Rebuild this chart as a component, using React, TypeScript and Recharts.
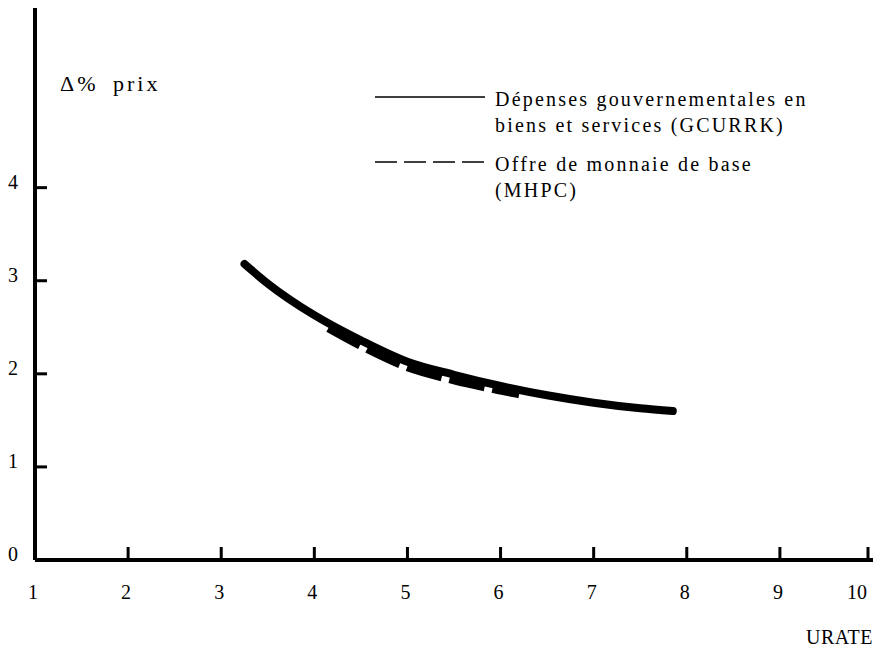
import { LineChart, Line, XAxis, YAxis, Legend } from 'recharts'

// URATE (taux de chômage) et variation en % des prix
const gcurrkUrate = [3.25, 3.5, 4, 4.5, 5, 5.5, 6, 6.5, 7, 7.5, 7.85]
const gcurrkPrix = [3.18, 2.97, 2.63, 2.36, 2.13, 1.99, 1.87, 1.77, 1.69, 1.63, 1.6]
const mhpcUrate = [4.15, 4.5, 5, 5.5, 6, 6.2]
const mhpcPrix = [2.49, 2.3, 2.07, 1.93, 1.82, 1.78]

const xTicks = [1, 2, 3, 4, 5, 6, 7, 8, 9, 10]
const yTicks = [0, 1, 2, 3, 4]

const gcurrkName = 'Dépenses gouvernementales en\nbiens et services (GCURRK)'
const mhpcName = 'Offre de monnaie de base\n(MHPC)'

const gcurrkData = gcurrkUrate.map((x, i) => ({ x, y: gcurrkPrix[i] }))
const mhpcData = mhpcUrate.map((x, i) => ({ x, y: mhpcPrix[i] }))

const FONT = '"Liberation Serif", "DejaVu Serif", serif'

const XTick = ({ x, y, payload }: any) => (
    <g>
        {payload.value > 1 && (
            <line x1={x} y1={y} x2={x} y2={y - 13} stroke="#000" strokeWidth={3} />
        )}
        <text
            x={payload.value === 10 ? x - 11 : x - 2}
            y={y + 39}
            textAnchor="middle"
            fontSize={20}
            fill="#000"
            fontFamily={FONT}
        >
            {payload.value}
        </text>
    </g>
)

const YTick = ({ x, y, payload }: any) => (
    <g>
        {payload.value > 0 && (
            <line x1={x} y1={y} x2={x + 12} y2={y} stroke="#000" strokeWidth={3} />
        )}
        <text x={13} y={y + 1} textAnchor="middle" fontSize={20} fill="#000" fontFamily={FONT}>
            {payload.value}
        </text>
    </g>
)

const renderLegend = ({ payload }: any) => (
    <div style={{ fontFamily: FONT, fontSize: 20, color: '#000', letterSpacing: 2.2, textAlign: 'left' }}>
        {(payload || []).map((entry: any, i: number) => (
            <div key={i} style={{ display: 'flex', alignItems: 'flex-start', marginBottom: 13 }}>
                <svg width={120} height={14} style={{ marginTop: 5, flex: 'none' }}>
                    <line
                        x1={0}
                        y1={6}
                        x2={110}
                        y2={6}
                        stroke="#000"
                        strokeWidth={1.5}
                        strokeDasharray={entry.payload?.strokeDasharray ? '22 7' : undefined}
                    />
                </svg>
                <span style={{ whiteSpace: 'pre-line', lineHeight: '26px' }}>{entry.value}</span>
            </div>
        ))}
    </div>
)

export default function App() {
    return (
        <div style={{ position: 'absolute', left: 0, top: 0, background: '#fff', fontFamily: FONT }}>
            <LineChart width={876} height={654} margin={{ top: 8, right: 3, left: 0, bottom: 0 }}>
                <XAxis
                    type="number"
                    dataKey="x"
                    domain={[1, 10]}
                    ticks={xTicks}
                    height={94}
                    tickSize={0}
                    tickMargin={0}
                    tickLine={false}
                    tick={<XTick />}
                    axisLine={{ stroke: '#000', strokeWidth: 4 }}
                    allowDataOverflow
                    label={{
                        content: ({ viewBox }: any) => (
                            <text
                                x={viewBox.x + viewBox.width}
                                y={viewBox.y + 84}
                                textAnchor="end"
                                fontSize={20}
                                letterSpacing={0.5}
                                fontFamily={FONT}
                                fill="#000"
                            >
                                URATE
                            </text>
                        ),
                    }}
                />
                <YAxis
                    type="number"
                    dataKey="y"
                    domain={[0, 5.93]}
                    ticks={yTicks}
                    width={35}
                    tickSize={0}
                    tickMargin={0}
                    tickLine={false}
                    tick={<YTick />}
                    axisLine={{ stroke: '#000', strokeWidth: 4 }}
                    allowDataOverflow
                    label={{
                        content: ({ viewBox }: any) => (
                            <text
                                x={viewBox.x + viewBox.width + 25}
                                y={viewBox.y + 83}
                                fontSize={22}
                                letterSpacing={3}
                                wordSpacing={6}
                                fontFamily={FONT}
                                fill="#000"
                            >
                                Δ% prix
                            </text>
                        ),
                    }}
                />
                <Legend
                    layout="vertical"
                    verticalAlign="middle"
                    align="center"
                    content={renderLegend}
                    wrapperStyle={{ left: 375, top: 86, width: 490 }}
                />
                <Line
                    data={gcurrkData}
                    dataKey="y"
                    name={gcurrkName}
                    type="monotone"
                    stroke="#000"
                    strokeWidth={8}
                    strokeLinecap="round"
                    dot={false}
                    activeDot={false}
                    isAnimationActive={false}
                />
                <Line
                    data={mhpcData}
                    dataKey="y"
                    name={mhpcName}
                    type="monotone"
                    stroke="#000"
                    strokeWidth={8}
                    strokeDasharray="36 8"
                    dot={false}
                    activeDot={false}
                    isAnimationActive={false}
                />
            </LineChart>
        </div>
    )
}
